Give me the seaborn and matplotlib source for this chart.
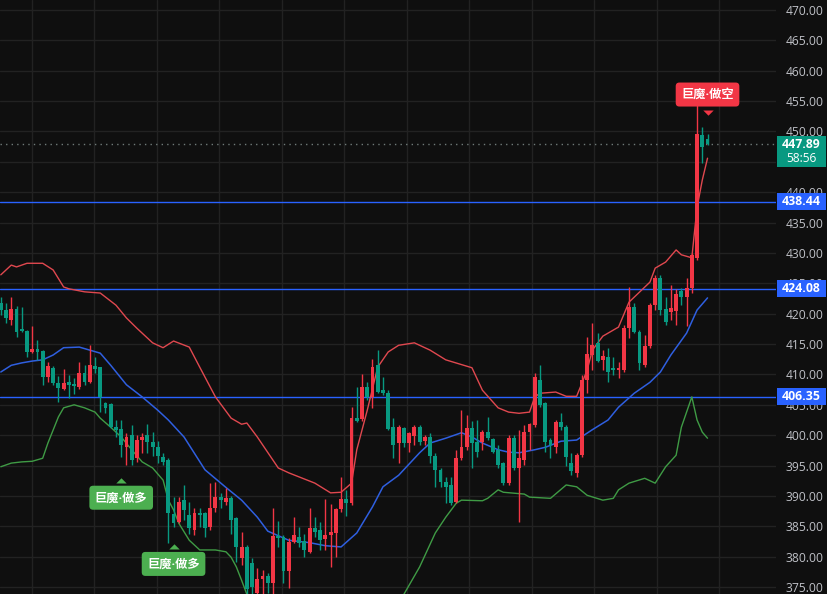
import matplotlib
matplotlib.use("Agg")
import matplotlib.pyplot as plt
from matplotlib.patches import Rectangle
import numpy as np
import pandas as pd
import seaborn as sns

# ---------------- data ----------------
opens = [421.8, 420.6, 419.0, 420.8, 417.5, 417.2, 413.7, 414.2, 413.9, 409.6,
         411.1, 408.6, 407.6, 408.7, 408.4, 407.9, 410.2, 408.8, 411.4, 411.2,
         405.3, 405.1, 401.3, 401.0, 398.0, 400.0, 396.2, 399.2, 400.0, 398.9,
         398.0, 396.4, 395.9, 387.0, 385.7, 389.3, 386.9, 384.4, 387.2, 387.2,
         384.9, 388.0, 389.8, 389.0, 389.7, 386.3, 379.8, 381.6, 378.9, 374.0,
         376.3, 376.8, 375.7, 383.4, 383.2, 377.6, 382.4, 383.2, 382.6, 380.8,
         384.7, 384.4, 382.9, 383.6, 383.9, 387.8, 389.5, 388.8, 402.8, 402.6,
         407.9, 406.3, 411.6, 407.4, 406.9, 401.3, 398.7, 401.2, 398.7, 399.8,
         401.3, 399.0, 399.7, 396.6, 394.2, 392.3, 391.8, 389.0, 396.2, 398.0,
         401.2, 398.9, 398.9, 400.5, 399.4, 397.6, 395.4, 392.1, 399.5, 394.6,
         395.9, 400.5, 401.7, 409.1, 405.3, 399.2, 398.0, 402.2, 401.3, 395.4,
         393.8, 396.7, 409.1, 413.2, 415.2, 412.4, 412.9, 411.0, 410.7, 410.7,
         417.7, 421.1, 417.0, 411.6, 414.7, 421.4, 425.9, 420.7, 420.3, 420.4,
         423.7, 422.7, 424.2, 429.2, 449.4, 448.8]
highs = [422.8, 421.8, 422.8, 421.3, 421.1, 417.3, 418.0, 415.7, 414.0, 412.0,
         411.4, 409.7, 410.9, 409.9, 409.4, 412.0, 411.5, 414.8, 412.9, 411.3,
         405.5, 405.3, 402.5, 402.5, 400.4, 401.7, 400.0, 400.4, 401.9, 400.5,
         399.0, 397.1, 396.2, 389.8, 389.8, 391.8, 389.0, 388.0, 388.0, 387.4,
         392.1, 392.3, 390.5, 391.3, 390.0, 386.5, 384.0, 381.9, 379.8, 378.1,
         377.8, 377.3, 388.0, 385.8, 383.5, 383.0, 386.5, 384.9, 383.7, 388.0,
         386.5, 385.7, 389.5, 388.7, 388.0, 393.1, 391.0, 404.6, 407.9, 410.1,
         408.7, 412.5, 414.0, 409.6, 407.4, 402.8, 401.7, 401.3, 400.5, 401.7,
         401.7, 400.0, 400.4, 397.1, 394.6, 393.1, 393.1, 397.6, 404.1, 403.3,
         402.3, 402.5, 400.9, 403.0, 399.5, 398.4, 395.6, 400.0, 400.0, 400.9,
         401.7, 402.0, 410.2, 411.6, 405.5, 399.5, 402.5, 403.6, 401.7, 397.1,
         397.1, 409.9, 416.2, 418.5, 416.8, 414.0, 414.4, 412.9, 412.0, 418.1,
         424.4, 421.8, 417.3, 416.5, 421.8, 426.4, 426.4, 422.7, 424.7, 424.0,
         424.2, 425.9, 430.0, 454.6, 450.7, 449.6]
lows = [419.8, 418.5, 418.1, 416.2, 417.0, 412.9, 413.5, 412.4, 408.3, 408.7,
        408.3, 405.5, 407.4, 406.1, 406.8, 407.6, 408.3, 408.6, 410.2, 403.8,
        403.6, 401.2, 399.7, 396.4, 395.1, 395.1, 395.6, 397.0, 397.0, 396.6,
        395.4, 395.1, 382.2, 384.9, 385.5, 386.0, 383.7, 383.5, 384.9, 383.2,
        384.4, 387.4, 388.0, 388.5, 383.7, 379.1, 378.7, 372.8, 373.2, 372.6,
        373.5, 374.0, 373.9, 381.6, 375.7, 374.8, 382.2, 381.6, 379.9, 380.6,
        383.2, 381.1, 381.1, 378.3, 379.9, 387.4, 386.7, 388.5, 402.2, 402.4,
        405.8, 404.5, 406.9, 406.6, 400.9, 396.2, 395.4, 398.0, 397.2, 398.4,
        398.4, 398.4, 395.4, 391.5, 391.5, 388.8, 388.5, 388.8, 395.9, 397.6,
        394.6, 396.4, 397.6, 399.2, 397.1, 394.6, 391.8, 391.8, 394.2, 385.7,
        395.1, 397.6, 401.3, 404.6, 397.2, 396.2, 397.1, 400.9, 394.9, 393.4,
        393.1, 396.4, 406.9, 410.7, 412.0, 410.7, 408.7, 409.9, 409.4, 410.4,
        416.0, 416.8, 410.7, 411.2, 414.4, 420.6, 419.8, 418.1, 419.0, 418.1,
        421.5, 417.9, 423.4, 428.8, 444.8, 447.7]
closes = [420.6, 419.3, 420.8, 417.0, 417.2, 413.7, 414.2, 413.7, 409.6, 411.4,
          408.6, 407.8, 408.6, 408.3, 408.1, 410.2, 408.7, 411.5, 410.9, 406.3,
          404.5, 401.3, 400.9, 398.4, 399.7, 395.9, 399.2, 399.7, 398.9, 398.0,
          396.5, 395.6, 387.2, 385.5, 389.0, 387.7, 384.7, 387.2, 386.9, 384.7,
          388.0, 389.8, 389.3, 389.7, 386.0, 381.6, 381.6, 374.6, 375.0, 376.3,
          376.8, 375.7, 383.4, 383.1, 377.6, 382.4, 383.5, 382.2, 381.1, 384.7,
          384.0, 382.7, 383.6, 384.0, 387.8, 389.5, 388.8, 402.8, 402.3, 407.9,
          406.3, 411.2, 407.1, 406.9, 401.0, 398.4, 401.3, 398.7, 400.3, 401.3,
          398.9, 399.7, 396.6, 394.2, 392.3, 391.5, 388.8, 396.2, 398.0, 401.2,
          398.7, 397.2, 400.5, 399.5, 397.2, 395.1, 392.1, 399.5, 394.6, 396.2,
          400.5, 401.9, 409.6, 405.0, 398.9, 398.4, 402.2, 401.3, 396.4, 394.1,
          396.7, 409.1, 413.4, 414.8, 412.2, 413.0, 410.4, 410.7, 411.0, 417.7,
          421.1, 417.0, 411.9, 414.7, 421.4, 425.9, 420.6, 418.6, 420.9, 423.2,
          422.7, 424.2, 429.6, 449.6, 447.4, 447.89]

# Bollinger band lines (candle index, price)
upper_idx = [0, 2, 3, 5, 8, 10, 12, 13, 16, 19, 22, 24, 26, 29, 31, 33, 36, 38, 41,
             44, 46, 47, 49, 53, 55, 60, 63, 65, 67, 68, 70, 72, 74, 76, 79, 82, 85,
             90, 92, 95, 97, 99, 101, 102, 103, 106, 108, 110, 112, 113, 115, 118,
             120, 124, 125, 127, 129, 130, 132, 133, 134, 135]
upper_val = [426.4, 428.0, 427.7, 428.3, 428.3, 427.2, 424.4, 424.1, 423.6, 423.4,
             421.4, 419.3, 417.6, 415.2, 414.4, 415.5, 414.5, 411.2, 406.3, 402.8,
             401.8, 402.0, 399.7, 394.6, 393.8, 392.1, 390.5, 390.6, 392.1, 397.6,
             404.1, 411.2, 413.7, 414.8, 415.2, 414.0, 412.4, 411.1, 407.4, 404.5,
             403.8, 403.6, 403.8, 406.3, 406.9, 407.1, 406.4, 406.4, 410.7, 414.0,
             416.3, 417.8, 421.9, 425.2, 427.5, 428.5, 430.5, 429.7, 429.2, 437.5,
             442.0, 445.6]
mid_idx = [0, 2, 4, 6, 8, 10, 12, 15, 17, 19, 21, 24, 27, 30, 32, 35, 39, 43, 46,
           49, 51, 55, 59, 62, 65, 68, 71, 73, 76, 80, 82, 85, 88, 90, 92, 95, 97,
           99, 102, 104, 107, 110, 113, 116, 118, 121, 124, 126, 128, 131, 133, 135]
mid_val = [410.4, 411.5, 411.9, 412.2, 412.4, 413.2, 414.4, 414.5, 414.0, 413.5,
           411.5, 408.3, 406.3, 404.1, 402.5, 399.7, 394.3, 391.4, 389.3, 386.5,
           384.2, 382.7, 382.3, 381.8, 381.6, 383.9, 388.2, 391.5, 393.4, 397.1,
           398.7, 399.5, 400.4, 399.7, 398.7, 397.6, 397.2, 397.1, 397.6, 398.0,
           399.0, 399.2, 400.9, 402.5, 404.6, 406.9, 408.7, 410.4, 413.2, 416.8,
           420.6, 422.6]
lower_idx = [0, 2, 4, 6, 8, 9, 11, 12, 14, 16, 18, 19, 21, 23, 25, 27, 29, 31, 32,
             33, 34, 36, 38, 41, 43, 44, 45, 46, 47, 50, 55, 62, 70, 77, 80, 83, 85,
             87, 88, 92, 93, 95, 96, 100, 101, 105, 108, 110, 112, 115, 117, 118,
             120, 123, 125, 127, 129, 130, 132, 133, 134, 135]
lower_val = [394.8, 395.4, 395.6, 395.7, 396.2, 398.7, 403.0, 404.5, 405.0, 404.5,
             403.8, 402.8, 401.3, 399.7, 397.6, 395.6, 394.6, 392.6, 389.3, 387.7,
             385.5, 382.7, 381.1, 381.1, 380.8, 379.9, 378.3, 376.1, 373.8, 370.5,
             366.5, 365.0, 367.5, 373.8, 378.3, 383.9, 386.5, 388.8, 389.3, 389.2,
             389.6, 391.0, 390.6, 390.3, 389.8, 389.6, 391.8, 391.5, 390.1, 389.3,
             389.6, 391.0, 392.1, 392.9, 392.1, 394.8, 396.7, 401.3, 406.3, 402.5,
             400.5, 399.5]

level_lines = [438.44, 424.08, 406.35]
last_price = 447.89
countdown = "58:56"
y_ticks = list(range(375, 471, 5))

signal_idx = [23, 33, 135]
signal_price = [392.5, 381.6, 453.2]
signal_text = ["巨魔·做多", "巨魔·做多", "巨魔·做空"]
signal_side = ["long", "long", "short"]

# ---------------- style ----------------
BG = "#0f0f0f"
GRID = "#222222"
UP = "#f23645"
DOWN = "#089981"
BLUE = "#2962ff"
TXT = "#bfc1c7"

sns.set_theme(style="dark", rc={"axes.facecolor": BG, "figure.facecolor": BG,
                                "axes.edgecolor": BG, "grid.color": GRID})
plt.rcParams["font.family"] = ["Open Sans", "Noto Sans CJK SC", "DejaVu Sans"]

W, H = 828, 594
PLOT_W = 776
S, X0 = 5.235, 0.8           # px per candle, px of candle 0
PMAX = 471.646
PX = 0.16464                 # price units per pixel
PMIN = PMAX - H * PX

fig = plt.figure(figsize=(W / 100, H / 100), dpi=100)
ax = fig.add_axes([0, 0, PLOT_W / W, 1])
ax.set_facecolor(BG)
ax.set_xlim((0 - X0) / S, (PLOT_W - X0) / S)
ax.set_ylim(PMIN, PMAX)

# grid
ax.set_yticks(y_ticks)
ax.set_yticklabels([f"{v:.2f}" for v in y_ticks])
vx = [(32 + 62.5 * k - X0) / S for k in range(12)]
ax.set_xticks(vx)
ax.set_xticklabels([])
ax.grid(True, color=GRID, linewidth=1)
ax.set_axisbelow(True)
for sp in ax.spines.values():
    sp.set_visible(False)
ax.yaxis.tick_right()
ax.tick_params(axis="y", length=0, pad=7.0, labelsize=8.7, labelcolor=TXT)
ax.tick_params(axis="x", length=0)

# level lines
for v in level_lines:
    ax.axhline(v, color=BLUE, linewidth=1, zorder=1.5)
# last price dotted line
ax.axhline(last_price, color="#6f7a78", linewidth=1, linestyle=(0, (1, 3)), zorder=1.5)

# bands
sns.lineplot(x=upper_idx, y=upper_val, ax=ax, color="#e0484f", linewidth=1, zorder=2)
sns.lineplot(x=mid_idx, y=mid_val, ax=ax, color="#2f5fe0", linewidth=1.1, zorder=2)
sns.lineplot(x=lower_idx, y=lower_val, ax=ax, color="#3f9b45", linewidth=1, zorder=2)

# candles
df = pd.DataFrame({"o": opens, "h": highs, "l": lows, "c": closes})
df["i"] = np.arange(len(df))
df["col"] = np.where(df["c"] >= df["o"], UP, DOWN)
ax.vlines(df["i"], df["l"], df["h"], colors=df["col"], linewidth=1, zorder=3)
body_b = np.minimum(df["o"], df["c"])
body_h = np.maximum(np.abs(df["c"] - df["o"]), 0.15)
ax.bar(df["i"], body_h, bottom=body_b, width=0.74, color=df["col"], linewidth=0, zorder=4)

# signal boxes
tri = [(-1, 0), (1, 0), (0, 1)]
tri_down = [(-1, 0), (1, 0), (0, -1)]
for i, p, t, side in zip(signal_idx, signal_price, signal_text, signal_side):
    if side == "long":
        col = "#4caf50"
        ax.plot([i], [p - 2.5 * PX], marker=tri, markersize=7.5, color=col,
                markeredgewidth=0, zorder=7, clip_on=False)
        cy = p - 17 * PX
    else:
        col = "#f23645"
        ax.plot([i], [p + 2.5 * PX], marker=tri_down, markersize=7.5, color=col,
                markeredgewidth=0, zorder=7, clip_on=False)
        cy = p + 17.5 * PX
    ax.text(i, cy, t, ha="center", va="center", color="white", fontsize=8.8,
            fontweight="bold", family=["Open Sans", "Noto Sans CJK SC", "DejaVu Sans"],
            bbox=dict(boxstyle="round,pad=0.45,rounding_size=0.3", fc=col, ec="none"),
            zorder=8)

# right-side price boxes
yt = ax.get_yaxis_transform()
bx0, bw = 1.0 + 1 / PLOT_W, 49 / PLOT_W
tx = 801 / PLOT_W
for v in level_lines:
    ax.add_patch(Rectangle((bx0, v - 8.5 * PX), bw, 17 * PX, transform=yt,
                           fc=BLUE, ec="none", clip_on=False, zorder=9))
    ax.text(tx, v, f"{v:.2f}", transform=yt, ha="center", va="center",
            color="white", fontsize=8.8, fontweight="bold", clip_on=False, zorder=10)

ax.add_patch(Rectangle((bx0, last_price - 23 * PX), bw, 31 * PX, transform=yt,
                       fc=DOWN, ec="none", clip_on=False, zorder=9))
ax.text(tx, last_price, f"{last_price:.2f}", transform=yt, ha="center", va="center",
        color="white", fontsize=8.8, fontweight="bold", clip_on=False, zorder=10)
ax.text(tx, last_price - 14.5 * PX, countdown, transform=yt, ha="center", va="center",
        color="white", fontsize=8.6, clip_on=False, zorder=10)

ax.set_xlabel("")
ax.set_ylabel("")
fig.savefig("out.png", dpi=100, facecolor=BG)
